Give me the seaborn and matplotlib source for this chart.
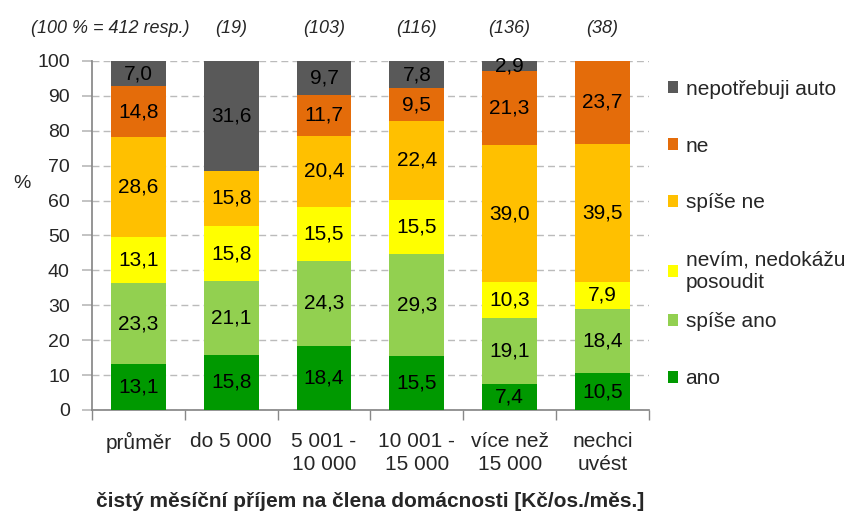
import numpy as np
import matplotlib
matplotlib.use("Agg")
import matplotlib.pyplot as plt
import seaborn as sns

kategorie = ["průměr", "do 5 000", "5 001 -\n10 000", "10 001 -\n15 000",
             "více než\n15 000", "nechci\nuvést"]
pocty = ["(100 % = 412 resp.)", "(19)", "(103)", "(116)", "(136)", "(38)"]

ano = [13.1, 15.8, 18.4, 15.5, 7.4, 10.5]
spise_ano = [23.3, 21.1, 24.3, 29.3, 19.1, 18.4]
nevim = [13.1, 15.8, 15.5, 15.5, 10.3, 7.9]
spise_ne = [28.6, 15.8, 20.4, 22.4, 39.0, 39.5]
ne = [14.8, 0.0, 11.7, 9.5, 21.3, 23.7]
nepotrebuji = [7.0, 31.6, 9.7, 7.8, 2.9, 0.0]

rady = [
    ("ano", ano, "#009900"),
    ("spíše ano", spise_ano, "#92D050"),
    ("nevím, nedokážu\nposoudit", nevim, "#FFFF00"),
    ("spíše ne", spise_ne, "#FFC000"),
    ("ne", ne, "#E46C0A"),
    ("nepotřebuji auto", nepotrebuji, "#595959"),
]

sns.set_theme(style="white")
plt.rcParams["font.family"] = ["Liberation Sans", "DejaVu Sans"]

fig = plt.figure(figsize=(8.56, 5.28), dpi=100)
ax = fig.add_axes([0.1075, 0.2235, 0.6505, 0.661])

spodek = np.zeros(len(kategorie))
for nazev, hodnoty, barva in rady:
    sns.barplot(x=kategorie, y=hodnoty, color=barva, bottom=spodek, width=0.59,
                saturation=1, label=nazev, ax=ax, linewidth=0, zorder=3)
    spodek = spodek + np.array(hodnoty)

for cont, (nazev, hodnoty, barva) in zip(ax.containers, rady):
    popisky = ["" if v == 0 else f"{v:.1f}".replace(".", ",") for v in hodnoty]
    ax.bar_label(cont, labels=popisky, label_type="center", fontsize=15,
                 color="black", zorder=4)

ax.set_ylim(0, 100)
ax.set_xlim(-0.5, 5.5)
ax.set_yticks(range(0, 101, 10))
ax.yaxis.grid(True, linestyle=(0, (5, 3)), color="#BBBBBB", linewidth=1, zorder=0)
ax.xaxis.grid(False)
ax.tick_params(axis="y", labelsize=14, length=7, color="#BBBBBB", left=True, pad=9)
ax.set_xticks(range(6))
ax.set_xticklabels(kategorie, fontsize=15, linespacing=1.25)
ax.set_xticks(np.arange(-0.5, 6, 1), minor=True)
ax.tick_params(axis="x", which="major", length=0, pad=16)
ax.tick_params(axis="x", which="minor", length=7, color="#888888", bottom=True)
for s in ["top", "right"]:
    ax.spines[s].set_visible(False)
ax.spines["left"].set_color("#888888")
ax.spines["bottom"].set_color("#888888")

ax.set_ylabel("%", rotation=0, fontsize=14, va="center", ha="center")
ax.yaxis.set_label_coords(-0.125, 0.65)
ax.set_xlabel("čistý měsíční příjem na člena domácnosti [Kč/os./měs.]",
              fontsize=15, fontweight="bold", labelpad=13)

for i, t in enumerate(pocty):
    x = i - 0.3 if i == 0 else i
    ax.text(x, 1.094, t, transform=ax.get_xaxis_transform(), ha="center",
            va="center", fontsize=13, fontstyle="italic")

h, l = ax.get_legend_handles_labels()
h, l = h[::-1], l[::-1]
spolecne = dict(loc="upper left", bbox_transform=fig.transFigure, frameon=False,
                fontsize=15, labelspacing=1.82, handlelength=0.5, handleheight=0.5,
                handletextpad=0.35, borderpad=0)
leg1 = ax.legend(h[:4], l[:4], bbox_to_anchor=(0.768, 0.869), **spolecne)
leg1.get_texts()[3].set_linespacing(1.25)
ax.add_artist(leg1)
ax.legend(h[4:], l[4:], bbox_to_anchor=(0.768, 0.428), **spolecne)

fig.savefig("out.png", dpi=100)
